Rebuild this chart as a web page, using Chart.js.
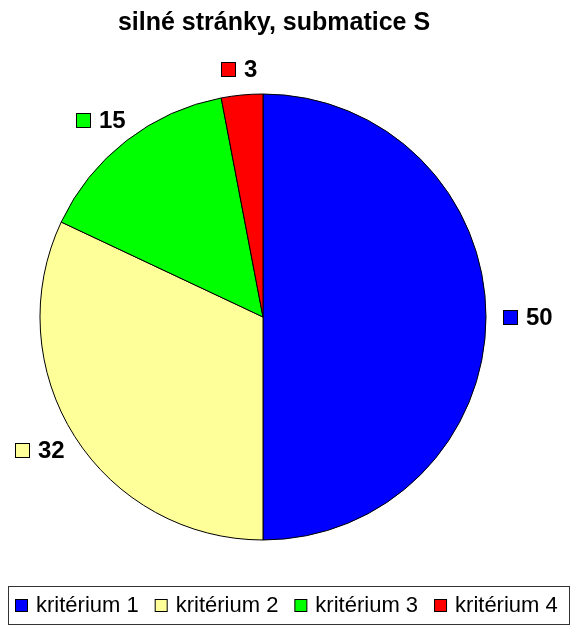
<!DOCTYPE html>
<html>
<head>
<meta charset="utf-8">
<script src="https://cdn.jsdelivr.net/npm/chart.js@4/dist/chart.umd.min.js"></script>
<style>
  html, body { margin: 0; padding: 0; background: #fff; }
  canvas { display: block; }
</style>
</head>
<body>
<canvas id="chartPie" width="571" height="626"></canvas>
<script>
const chartTitle = 'silné stránky, submatice S';
const categories = ['kritérium 1', 'kritérium 2', 'kritérium 3', 'kritérium 4'];
const values = [50, 32, 15, 3];
const colors = ['#0000FF', '#FFFF99', '#00FF00', '#FF0000'];

const FONT = '"Liberation Sans", Arial, sans-serif';

const extrasPlugin = {
  id: 'extras',
  afterDraw(chart) {
    const ctx = chart.ctx;
    ctx.save();

    // title
    ctx.fillStyle = '#000';
    ctx.font = 'bold 25px ' + FONT;
    ctx.textAlign = 'center';
    ctx.textBaseline = 'alphabetic';
    ctx.fillText(chartTitle, 274, 30);

    // data labels: small colour square + value, outside each slice
    const meta = chart.getDatasetMeta(0);
    ctx.font = 'bold 24px ' + FONT;
    ctx.textAlign = 'left';
    ctx.textBaseline = 'middle';
    const sq = 14, gap = 9, h = 18, dist = 17;
    meta.data.forEach((arc, i) => {
      const mid = (arc.startAngle + arc.endAngle) / 2;
      const dx = Math.cos(mid), dy = Math.sin(mid);
      const txt = String(values[i]);
      const w = sq + gap + ctx.measureText(txt).width;
      const r = arc.outerRadius + dist;
      const cx = arc.x + r * dx + (w / 2) * dx;
      const cy = arc.y + r * dy + (h / 2) * dy;
      const left = Math.round(cx - w / 2);
      const top = Math.round(cy - sq / 2);
      ctx.fillStyle = colors[i];
      ctx.fillRect(left + 0.5, top + 0.5, sq, sq);
      ctx.strokeStyle = '#000';
      ctx.lineWidth = 1;
      ctx.strokeRect(left + 0.5, top + 0.5, sq, sq);
      ctx.fillStyle = '#000';
      ctx.fillText(txt, left + sq + gap, cy + 1);
    });

    // legend box
    ctx.strokeStyle = '#333';
    ctx.lineWidth = 1;
    ctx.strokeRect(8.5, 586.5, 561, 38);
    ctx.font = '22px ' + FONT;
    ctx.textBaseline = 'middle';
    let x = 15;
    const ly = 605;
    categories.forEach((name, i) => {
      ctx.fillStyle = colors[i];
      ctx.fillRect(x + 0.5, ly - 6 + 0.5, 12, 12);
      ctx.strokeStyle = '#000';
      ctx.strokeRect(x + 0.5, ly - 6 + 0.5, 12, 12);
      ctx.fillStyle = '#000';
      ctx.fillText(name, x + 21, ly + 1);
      x += 21 + ctx.measureText(name).width + 16;
    });

    ctx.restore();
  }
};

new Chart(document.getElementById('chartPie'), {
  type: 'pie',
  data: {
    labels: categories,
    datasets: [{
      data: values,
      backgroundColor: colors,
      borderColor: '#000',
      borderWidth: 1
    }]
  },
  options: {
    responsive: false,
    animation: false,
    layout: {
      padding: { left: 39.5, top: 93.5, right: 84.5, bottom: 85.5 }
    },
    plugins: {
      legend: { display: false },
      title: { display: false },
      tooltip: { enabled: false }
    }
  },
  plugins: [extrasPlugin]
});
</script>
</body>
</html>
